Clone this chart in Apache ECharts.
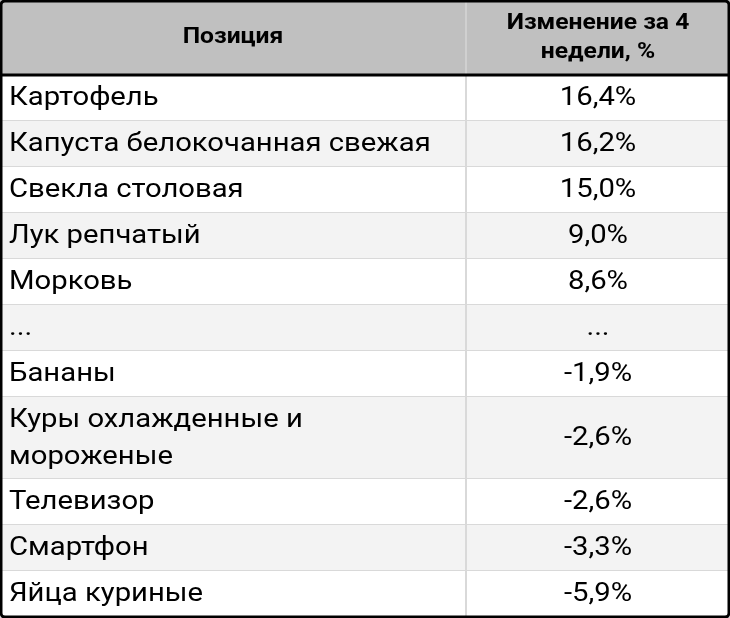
<!DOCTYPE html>
<html><head><meta charset="utf-8">
<script src="https://cdn.jsdelivr.net/npm/echarts@6/dist/echarts.min.js"></script>
<style>html,body{margin:0;padding:0;background:#fff}#c{width:730px;height:618px}</style>
</head><body><div id="c"></div>
<script>
const headers = ['Позиция', 'Изменение за 4\nнедели, %'];
const items = ['Картофель','Капуста белокочанная свежая','Свекла столовая','Лук репчатый','Морковь','...','Бананы','Куры охлажденные и\nмороженые','Телевизор','Смартфон','Яйца куриные'];
const changes = ['16,4%','16,2%','15,0%','9,0%','8,6%','...','-1,9%','-2,6%','-2,6%','-3,3%','-5,9%'];

const W = 730, HEAD = 75, ROW = 46, EXTRA = 36, DIV = 466;
const tops = []; let acc = HEAD;
items.forEach(n => { tops.push(acc); acc += ROW + (n.split('\n').length - 1) * EXTRA; });
tops.push(acc);
const FONT = 'Roboto, "Noto Sans", sans-serif';
const SX = 1.17;

const chart = echarts.init(document.getElementById('c'), null, {renderer:'canvas'});
chart.setOption({
  animation:false,
  series:[{
    type:'custom', coordinateSystem:'none',
    data: items.map((n,i)=>[i]),
    renderItem(params, api){
      const i = api.value(0);
      const y0 = tops[i], y1 = tops[i+1], h = y1 - y0, cy = (y0+y1)/2;
      const cx = (DIV+W)/2;
      const children = [
        {type:'rect', shape:{x:0,y:y0,width:W,height:h}, style:{fill: i%2===1 ? '#f3f3f3' : '#ffffff'}},
        {type:'line', shape:{x1:0,y1:y1,x2:W,y2:y1}, style:{stroke:'#d9d9d9', lineWidth:2}},
        {type:'line', shape:{x1:DIV,y1:y0,x2:DIV,y2:y1}, style:{stroke:'#d9d9d9', lineWidth:2}},
        {type:'text', x:9, y:cy+1, scaleX:SX, style:{text:items[i], x:0, y:0, verticalAlign:'middle', align:'left', font:'25px '+FONT, fill:'#000', lineHeight:37}},
        {type:'text', x:cx, y:cy+1, scaleX:SX, style:{text:changes[i], x:0, y:0, verticalAlign:'middle', align:'center', font:'25px '+FONT, fill:'#000'}}
      ];
      return {type:'group', children};
    },
    z:1
  }],
  graphic:[
    {type:'rect', shape:{x:0,y:0,width:W,height:HEAD}, style:{fill:'#c0c0c0'}, z:0},
    {type:'line', shape:{x1:DIV,y1:0,x2:DIV,y2:HEAD}, style:{stroke:'#d0d0d0', lineWidth:2}},
    {type:'line', shape:{x1:0,y1:HEAD,x2:W,y2:HEAD}, style:{stroke:'#000', lineWidth:3}, z:10},
    {type:'text', x:DIV/2, y:HEAD/2, scaleX:1.12, style:{text:headers[0], x:0, y:0, align:'center', verticalAlign:'middle', font:'bold 22px '+FONT, fill:'#000'}},
    {type:'text', x:(DIV+W)/2, y:HEAD/2, scaleX:1.12, style:{text:headers[1], x:0, y:0, align:'center', verticalAlign:'middle', font:'bold 22px '+FONT, fill:'#000', lineHeight:29}},
    {type:'rect', shape:{x:1,y:1,width:W-2,height:616,r:4}, style:{fill:'none', stroke:'#000', lineWidth:3}, z:20}
  ]
});
</script></body></html>
